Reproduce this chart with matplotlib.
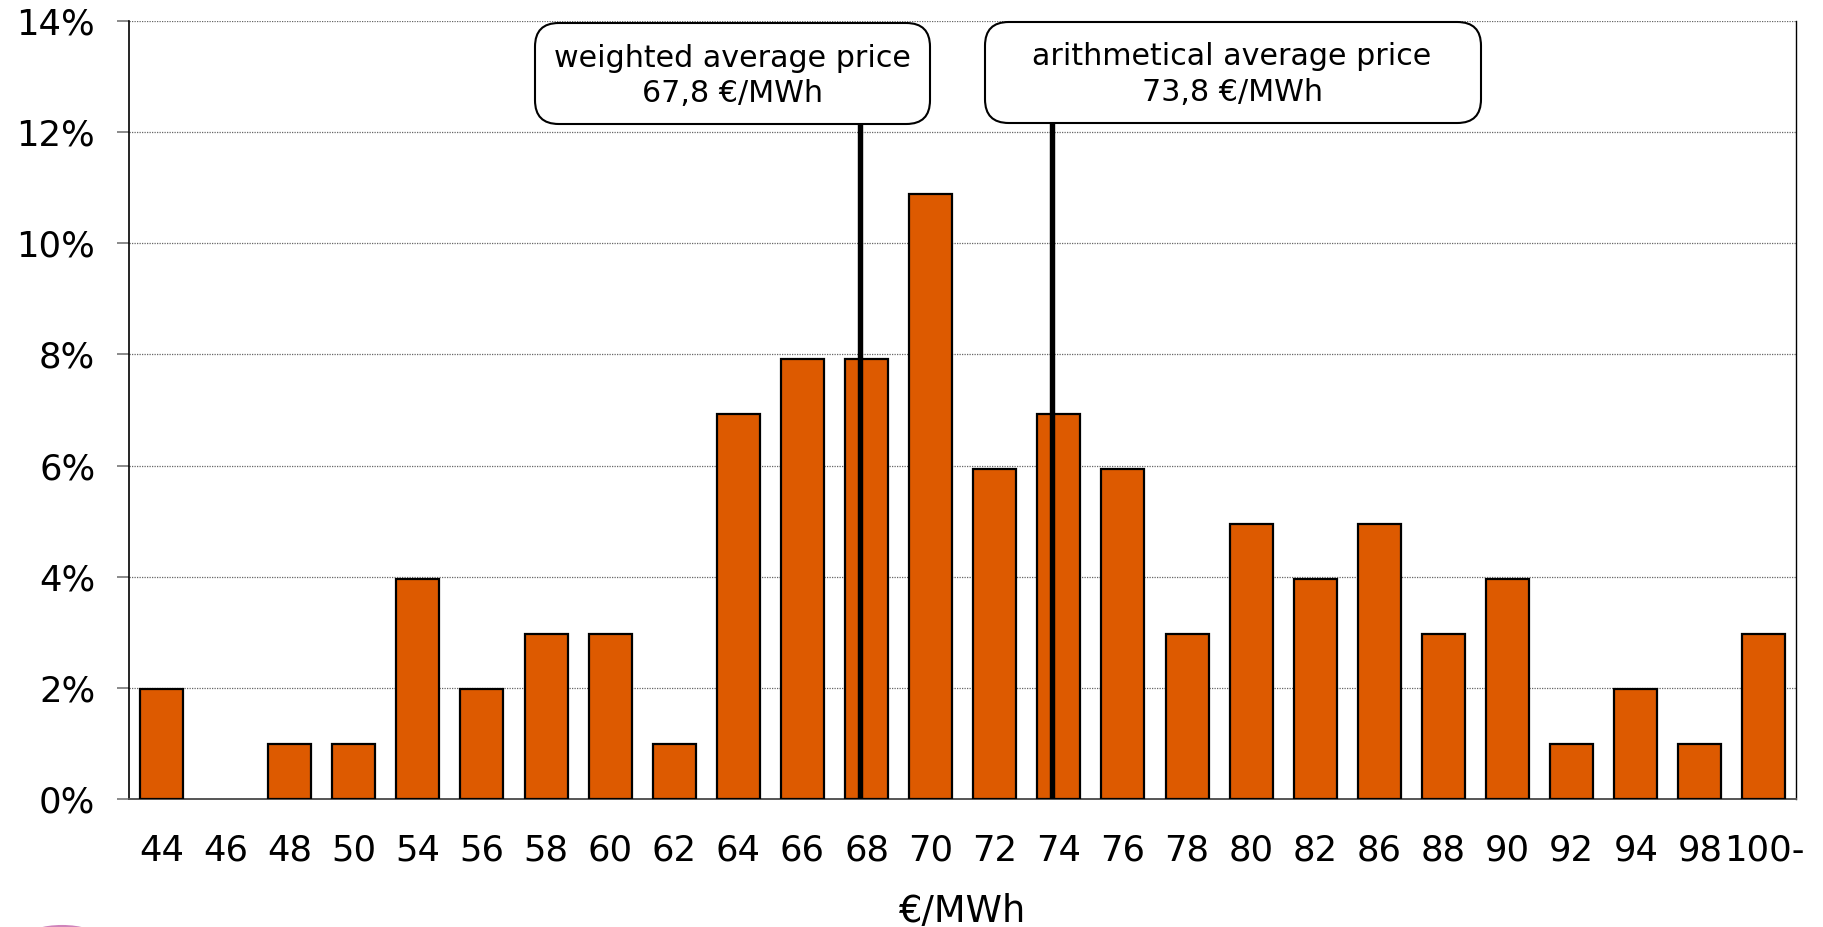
import matplotlib
matplotlib.use("Agg")
import matplotlib.pyplot as plt
from matplotlib.patches import FancyBboxPatch, Ellipse
import numpy as np

# Price classes (€/MWh) and number of days in each class
price_labels = ["44", "46", "48", "50", "54", "56", "58", "60", "62", "64", "66", "68",
                "70", "72", "74", "76", "78", "80", "82", "86", "88", "90", "92", "94",
                "98", "100-"]
day_counts = [2, 0, 1, 1, 4, 2, 3, 3, 1, 7, 8, 8, 11, 6, 7, 6, 3, 5, 4, 5, 3, 4, 1, 2, 1, 3]
share_pct = [100.0 * c / sum(day_counts) for c in day_counts]

weighted_avg = 67.8
arith_avg = 73.8
y_ticks = [0, 2, 4, 6, 8, 10, 12, 14]

W, H = 1823, 927
fig = plt.figure(figsize=(W / 100, H / 100), dpi=100)
ax = fig.add_axes([129.4 / W, 1 - 799 / H, (1796 - 129.4) / W, (799 - 21) / H])

x = np.arange(len(price_labels))
edge_widths = [1.6 if v > 0 else 0 for v in share_pct]
ax.bar(x, share_pct, width=0.67, color="#DD5A00", edgecolor="black",
       linewidth=edge_widths, zorder=3)

ax.set_xlim(-0.5, len(price_labels) - 0.5)
ax.set_ylim(0, 14)
ax.set_yticks(y_ticks)
ax.set_yticklabels([f"{t}%" for t in y_ticks], fontsize=25.5)
ax.set_xticks(x)
ax.set_xticklabels(price_labels, fontsize=25.5)
ax.tick_params(axis="x", length=0, pad=25)
ax.tick_params(axis="y", direction="out", length=8.5, width=1.2, color="#777777", pad=16)
ax.yaxis.grid(True, linestyle=(0, (1, 1)), color="#666666", linewidth=0.9, zorder=0)
ax.set_axisbelow(True)
ax.spines["top"].set_visible(False)
ax.spines["left"].set_color("black")
ax.spines["left"].set_linewidth(1.2)
ax.spines["right"].set_color("black")
ax.spines["right"].set_linewidth(1.0)
ax.spines["bottom"].set_color("#555555")
ax.spines["bottom"].set_linewidth(1.4)
ax.set_xlabel("€/MWh", fontsize=26.5, labelpad=18)

# Convert a price to a position on the category axis
numeric_prices = [float(p.rstrip("-")) for p in price_labels]


def price_pos(v):
    return float(np.interp(v, numeric_prices, x))


def px_to_fig(px, py):
    return px / W, 1 - py / H


box_bottom = (799 - 123) / ((799 - 21) / 14)

boxes = [
    (weighted_avg, "weighted average price", 535, 930, 23, 124, 732, 67, 102),
    (arith_avg, "arithmetical average price", 985, 1481, 22, 123, 1232, 65, 101),
]
for value, title, x0, x1, y0, y1, cx, b1, b2 in boxes:
    ax.vlines(price_pos(value), 0, box_bottom, color="black", linewidth=3.9, zorder=4)
    fx0, fy1 = px_to_fig(x0, y1)
    fx1, fy0 = px_to_fig(x1, y0)
    patch = FancyBboxPatch((fx0, fy1), fx1 - fx0, fy0 - fy1,
                           boxstyle="round,pad=0,rounding_size=0.013",
                           transform=fig.transFigure, facecolor="white",
                           edgecolor="black", linewidth=1.5, zorder=5,
                           mutation_aspect=W / H)
    fig.patches.append(patch)
    tx, ty1 = px_to_fig(cx, b1)
    _, ty2 = px_to_fig(cx, b2)
    fig.text(tx, ty1, title, ha="center", va="baseline", fontsize=21.7, zorder=6)
    fig.text(tx, ty2, f"{value:.1f}".replace(".", ",") + " €/MWh",
             ha="center", va="baseline", fontsize=21.7, zorder=6)

# Corner logo fragment
logo = Ellipse(px_to_fig(62, 938), 70 / W, 24 / H, transform=fig.transFigure,
               facecolor="none", edgecolor="#B0308F", linewidth=1.5, alpha=0.6)
fig.patches.append(logo)

fig.savefig("out.png", dpi=100)
